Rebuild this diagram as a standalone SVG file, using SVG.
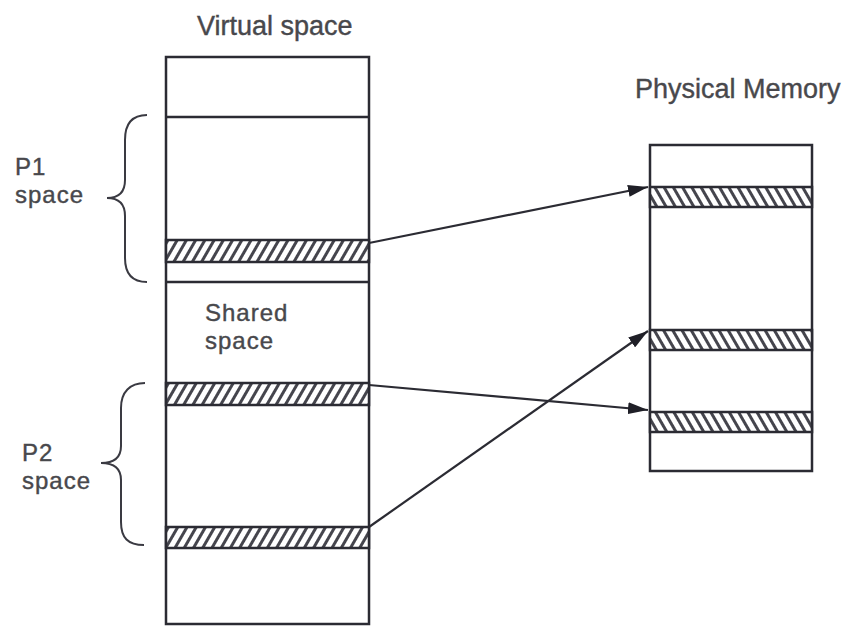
<svg xmlns="http://www.w3.org/2000/svg" width="843" height="629" viewBox="0 0 843 629">
<defs>
<style>
.ln{fill:none;stroke:#2b2b33;stroke-width:2.5}
.br{fill:none;stroke:#3a3a42;stroke-width:2}
.tx{font-family:"Liberation Sans",Arial,sans-serif;font-size:27px;fill:#48484c;stroke:#48484c;stroke-width:0.4}
.t2{font-family:"Liberation Sans",Arial,sans-serif;font-size:24px;letter-spacing:1px;fill:#48484c;stroke:#48484c;stroke-width:0.4}
.hv{fill:url(#hatchV);stroke:#2b2b33;stroke-width:2.5}
.hp{fill:url(#hatchP);stroke:#2b2b33;stroke-width:2.5}
.ar{fill:none;stroke:#2b2b33;stroke-width:2.2;marker-end:url(#ah)}
</style>
<pattern id="hatchV" patternUnits="userSpaceOnUse" width="8" height="8" patternTransform="rotate(30)">
<rect width="8" height="8" fill="#fff"/>
<rect x="0" y="0" width="3" height="8" fill="#45454d"/>
</pattern>
<pattern id="hatchP" patternUnits="userSpaceOnUse" width="8" height="8" patternTransform="rotate(-30)">
<rect width="8" height="8" fill="#fff"/>
<rect x="0" y="0" width="3" height="8" fill="#45454d"/>
</pattern>
<marker id="ah" viewBox="0 0 20 12" refX="20" refY="6" markerWidth="20" markerHeight="12" markerUnits="userSpaceOnUse" orient="auto">
<path d="M0,0 L20,6 L0,12 Z" fill="#1f1f27"/>
</marker>
</defs>
<rect width="843" height="629" fill="#fff"/>

<g id="virtual">
<text class="tx" x="197" y="35">Virtual space</text>
<rect class="ln" x="166" y="57" width="203" height="567"/>
<line class="ln" x1="166" y1="117" x2="369" y2="117"/>
<line class="ln" x1="166" y1="282" x2="369" y2="282"/>
<rect class="hv" x="166" y="240" width="203" height="22"/>
<rect class="hv" x="166" y="383" width="203" height="22"/>
<rect class="hv" x="166" y="527" width="203" height="21"/>
<text class="t2" x="205" y="321">Shared</text>
<text class="t2" x="205" y="349">space</text>
</g>

<g id="p1">
<path class="br" d="M147,115 C132,115 125,124 125,140 L125,180 C125,192 119,198 107,198 C119,198 125,204 125,216 L125,258 C125,274 132,282 147,282"/>
<text class="t2" x="15" y="175">P1</text>
<text class="t2" x="15" y="203">space</text>
</g>

<g id="p2">
<path class="br" d="M145,383 C130,383 121,392 121,408 L121,446 C121,457 114,463 101,463 C114,463 121,469 121,480 L121,522 C121,538 128,545 144,545"/>
<text class="t2" x="22" y="461">P2</text>
<text class="t2" x="22" y="489">space</text>
</g>

<g id="physical">
<text class="tx" x="635" y="98">Physical Memory</text>
<rect class="ln" x="650" y="145" width="162" height="326"/>
<rect class="hp" x="650" y="187" width="162" height="20"/>
<rect class="hp" x="650" y="330" width="162" height="20"/>
<rect class="hp" x="650" y="412" width="162" height="20"/>
</g>

<g id="connectors">
<line class="ar" x1="369" y1="243" x2="648" y2="187"/>
<line class="ar" x1="369" y1="385" x2="648" y2="410"/>
<line class="ar" x1="369" y1="527" x2="648" y2="331"/>
</g>
</svg>
